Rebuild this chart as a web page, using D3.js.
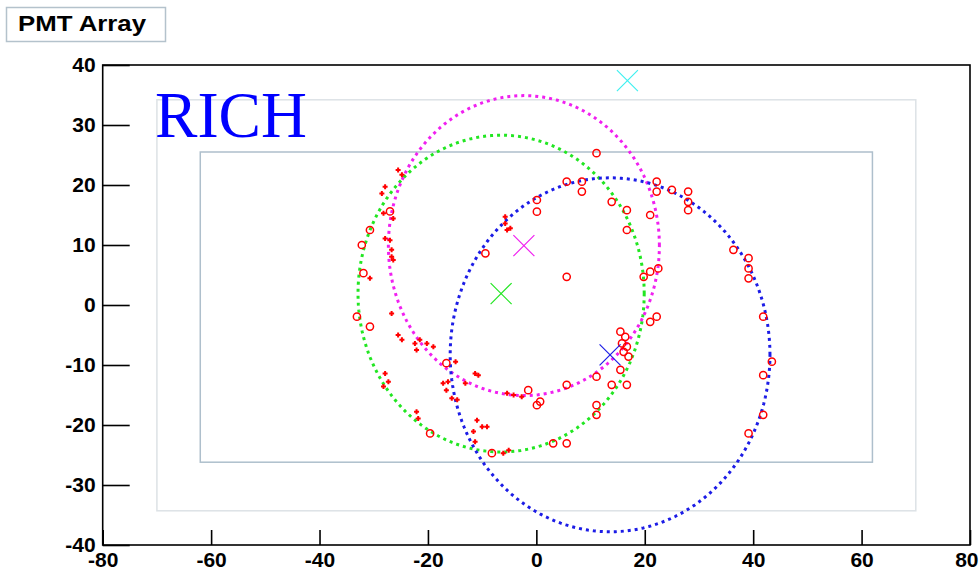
<!DOCTYPE html>
<html>
<head>
<meta charset="utf-8">
<script src="https://cdn.jsdelivr.net/npm/d3@7"></script>
<style>
  body { margin: 0; background: #fff; }
  svg { display: block; }
</style>
</head>
<body>
<script>
// ring fits: center and radius in detector units
const ringColors = ['#22e622', '#f020f0', '#1c1ce6'];
const ringCx = [-6.5, -2.3, 13.6];
const ringCy = [1.9, 9.9, -8.3];
const ringR = [26.4, 25.0, 29.5];

// extra cross (no ring)
const extraX = [16.8];
const extraY = [37.4];
const extraColor = '#40f0f0';

// PMT hits, large open circles
const hitX = [-27.0, -30.7, -32.2, -31.9, -33.1, -30.7, -9.4, -16.6, -19.6, -8.2,
  -1.5, 0.7, 0.1, 3.1, 5.6, 5.6, 11.1, 11.1, 11.1, 13.9,
  16.7, 15.5, 15.5, 16.4, 15.8, 16.7, 16.1, 17.0, 21.0, 22.2,
  11.1, 5.6, 8.4, 8.4, 0.1, 0.1, 13.9, 16.7, 16.7, 21.0,
  22.2, 22.2, 25.0, 28.0, 28.0, 28.0, 5.6, 19.8, 21.0, 22.5,
  36.35, 39.15, 39.15, 39.15, 41.85, 43.45, 41.85, 41.85, 39.15];
const hitY = [15.6, 12.5, 10.0, 5.3, -1.95, -3.6, 8.6, -9.7, -21.4, -24.7,
  -14.2, -16.1, -16.7, -23.05, -13.3, -23.05, -11.95, -16.7, -18.3, -13.3,
  -13.3, -10.8, -4.45, -5.3, -6.4, -6.95, -7.8, -8.6, -2.8, -1.95,
  25.3, 20.55, 20.55, 18.9, 17.5, 15.55, 17.2, 15.8, 12.5, 15.0,
  20.55, 18.9, 19.2, 18.9, 17.2, 15.8, 4.7, 4.7, 5.55, 6.1,
  9.2, 7.8, 6.1, 4.45, -1.95, -9.45, -11.7, -18.3, -21.4];

// PMT hits, small markers
const smallX = [-25.5, -24.8, -27.9, -28.5, -26.4, -28.2, -27.9, -27.0, -26.7, -26.7,
  -26.4, -30.7, -26.7, -25.5, -24.8, -22.4, -21.5, -20.2, -19.0, -22.1,
  -14.9, -27.9, -27.3, -28.2, -17.2, -16.3, -13.1, -11.3, -10.7, -16.6,
  -15.6, -14.6, -22.1, -21.8, -10.95, -10.0, -9.1, -11.6, -11.3, -6.1,
  -5.1, -5.4, -4.2, -2.7, -5.75, -5.75, -5.4, -4.8];
const smallY = [22.5, 21.7, 19.7, 18.6, 14.4, 15.3, 11.1, 10.8, 9.2, 8.05,
  7.5, 4.45, -1.4, -5.0, -5.8, -6.4, -5.8, -6.4, -6.95, -7.5,
  -9.45, -11.4, -12.8, -13.6, -13.05, -12.8, -13.05, -11.4, -11.7, -14.2,
  -15.55, -15.8, -17.8, -18.9, -19.2, -20.3, -20.3, -21.1, -22.8, -24.7,
  -24.2, -14.7, -15.0, -15.3, 14.7, 13.6, 12.5, 12.8];

// detector outlines [x0, x1, y0, y1]
const outerBox = [-70, 70, -34.3, 34.2];
const innerBox = [-62, 62, -26.2, 25.5];

const xMajor = [-80, -60, -40, -20, 0, 20, 40, 60, 80];
const yMajor = [-40, -30, -20, -10, 0, 10, 20, 30, 40];

const W = 979, H = 571;
const svg = d3.select('body').append('svg')
  .attr('width', W)
  .attr('height', H);

const x = d3.scaleLinear().domain([-80, 80]).range([102.7, 970]);
const y = d3.scaleLinear().domain([-40, 40]).range([545, 65]);

const font = "'Liberation Sans', Arial, sans-serif";

// title box
svg.append('rect')
  .attr('x', 6.5).attr('y', 7.5)
  .attr('width', 159).attr('height', 34)
  .attr('fill', '#fff')
  .attr('stroke', '#b4c2cc')
  .attr('stroke-width', 1.5);
svg.append('text')
  .attr('x', 18).attr('y', 31)
  .attr('font-family', font)
  .attr('font-weight', 'bold')
  .attr('font-size', 22)
  .attr('textLength', 128)
  .attr('lengthAdjust', 'spacingAndGlyphs')
  .text('PMT Array');

// detector boxes
function box(b, color) {
  svg.append('rect')
    .attr('x', x(b[0])).attr('y', y(b[3]))
    .attr('width', x(b[1]) - x(b[0]))
    .attr('height', y(b[2]) - y(b[3]))
    .attr('fill', 'none')
    .attr('stroke', color)
    .attr('stroke-width', 1.5);
}
box(outerBox, '#dde2e6');
box(innerBox, '#aebfcc');

// RICH label
svg.append('text')
  .attr('x', 155).attr('y', 137)
  .attr('font-family', "'Liberation Serif', 'Times New Roman', serif")
  .attr('font-size', 66)
  .attr('fill', '#0000ff')
  .attr('textLength', 152)
  .attr('lengthAdjust', 'spacingAndGlyphs')
  .text('RICH');

// axes with inward ticks
const gx = svg.append('g').attr('transform', `translate(0,${y(-40)})`);
gx.call(d3.axisBottom(x).tickValues(d3.range(-80, 81, 5)).tickSize(-7.5).tickFormat(''));
gx.call(d3.axisBottom(x).tickValues(xMajor).tickSize(-15).tickPadding(7).tickFormat(d => String(d)));

const gy = svg.append('g').attr('transform', `translate(${x(-80)},0)`);
gy.call(d3.axisLeft(y).tickValues(d3.range(-40, 41, 2)).tickSize(-14).tickFormat(''));
gy.call(d3.axisLeft(y).tickValues(yMajor).tickSize(-27).tickPadding(7).tickFormat(d => String(d)));

svg.selectAll('.domain').remove();
svg.selectAll('.tick line').attr('stroke', '#000').attr('stroke-width', 1.6);
svg.selectAll('.tick text')
  .attr('font-family', font)
  .attr('font-weight', 'bold')
  .attr('font-size', 21)
  .attr('fill', '#000');

// last x label sits at the page edge, keep it inside
gx.selectAll('.tick text').filter(d => d === 80)
  .attr('text-anchor', 'end')
  .attr('x', W - x(80) - 1);

// frame
svg.append('rect')
  .attr('x', x(-80)).attr('y', y(40))
  .attr('width', x(80) - x(-80))
  .attr('height', y(-40) - y(40))
  .attr('fill', 'none')
  .attr('stroke', '#000')
  .attr('stroke-width', 1.6);

// fitted rings, dotted
const angles = d3.range(0, 360, 2).map(a => a * Math.PI / 180);
const ring = d3.line().curve(d3.curveLinearClosed);
ringCx.forEach((cx, i) => {
  const pts = angles.map(a => [x(cx + ringR[i] * Math.cos(a)), y(ringCy[i] + ringR[i] * Math.sin(a))]);
  svg.append('path')
    .attr('d', ring(pts))
    .attr('fill', 'none')
    .attr('stroke', ringColors[i])
    .attr('stroke-width', 3)
    .attr('stroke-dasharray', '3,4');
});

// hits
svg.append('g').selectAll('circle')
  .data(hitX.map((v, i) => [v, hitY[i]]))
  .join('circle')
  .attr('cx', d => x(d[0]))
  .attr('cy', d => y(d[1]))
  .attr('r', 3.6)
  .attr('fill', 'none')
  .attr('stroke', '#ff0000')
  .attr('stroke-width', 1.5);

svg.append('g').selectAll('path')
  .data(smallX.map((v, i) => [v, smallY[i]]))
  .join('path')
  .attr('transform', d => `translate(${x(d[0])},${y(d[1])})`)
  .attr('d', 'M-2.5,0H2.5M0,-2.5V2.5')
  .attr('stroke', '#ff0000')
  .attr('stroke-width', 2);

// ring centres as crosses
function cross(cx, cy, color) {
  const px = x(cx), py = y(cy), s = 10.5;
  svg.append('path')
    .attr('d', `M${px - s},${py - s}L${px + s},${py + s}M${px - s},${py + s}L${px + s},${py - s}`)
    .attr('stroke', color)
    .attr('stroke-width', 1.2);
}
ringCx.forEach((cx, i) => cross(cx, ringCy[i], ringColors[i]));
extraX.forEach((cx, i) => cross(cx, extraY[i], extraColor));
</script>
</body>
</html>
